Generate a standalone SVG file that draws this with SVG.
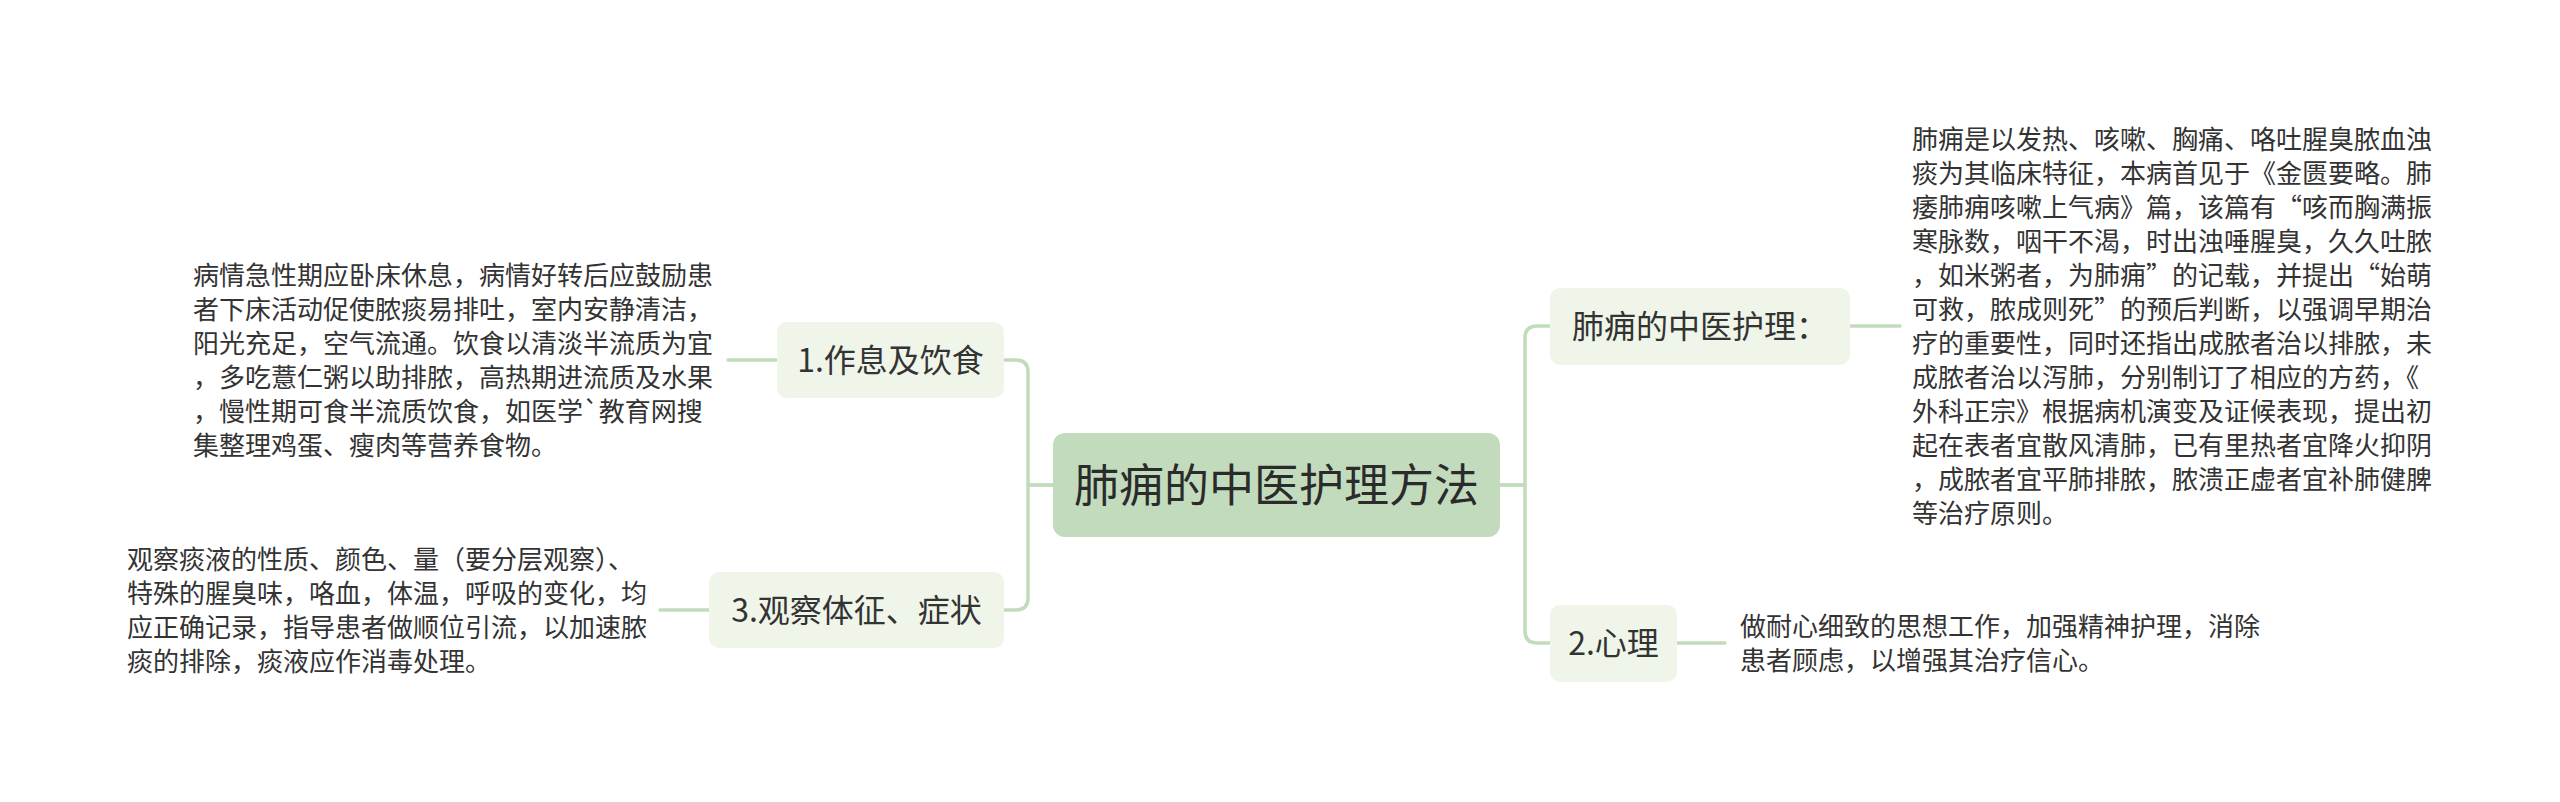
<svg xmlns="http://www.w3.org/2000/svg" width="2560" height="802" viewBox="0 0 2560 802">
<style>
.t{font-family:"Noto Sans CJK SC","Noto Sans",sans-serif;fill:#333333;}
.leaf{font-size:26px;}
.n1{font-size:32px;text-anchor:middle;}
.root{font-size:45px;text-anchor:middle;fill:#2b2b2b;}
.r1{fill:#eff5e8;}
.rr{fill:#c2dbbd;}
.c{fill:none;stroke:#c3dbbd;stroke-width:3.5;stroke-linecap:round;stroke-linejoin:round;}
</style>
<rect width="2560" height="802" fill="#ffffff"/>
<g id="connectors">
<path class="c" d="M1500,485 H1525 V338 Q1525,326 1537,326 H1550"/>
<path class="c" d="M1500,485 H1525 V631 Q1525,643 1537,643 H1550"/>
<path class="c" d="M1053,485 H1028 V372 Q1028,360 1016,360 H1004"/>
<path class="c" d="M1053,485 H1028 V598 Q1028,610 1016,610 H1004"/>
<path class="c" d="M777,360 H728"/>
<path class="c" d="M709,610 H660"/>
<path class="c" d="M1850,326 H1900"/>
<path class="c" d="M1677,643 H1725"/>
</g>
<g id="root">
<rect class="rr" x="1053" y="433" width="447" height="104" rx="12"/>
<text class="t root" x="1276.5" y="502">肺痈的中医护理方法</text>
</g>
<g id="n-zhongyi">
<rect class="r1" x="1550" y="288" width="300" height="77" rx="10"/>
<text class="t n1" x="1700" y="338">肺痈的中医护理：</text>
</g>
<g id="n-xinli">
<rect class="r1" x="1550" y="605" width="127" height="77" rx="10"/>
<text class="t n1" x="1613.5" y="655">2.心理</text>
</g>
<g id="n-zuoxi">
<rect class="r1" x="777" y="322" width="227" height="76" rx="10"/>
<text class="t n1" x="890.5" y="372">1.作息及饮食</text>
</g>
<g id="n-guancha">
<rect class="r1" x="709" y="572" width="295" height="76" rx="10"/>
<text class="t n1" x="856.5" y="622">3.观察体征、症状</text>
</g>
<g id="leaf-zhongyi">
<text class="t leaf" x="1912">
<tspan x="1912" y="149">肺痈是以发热、咳嗽、胸痛、咯吐腥臭脓血浊</tspan>
<tspan x="1912" y="183">痰为其临床特征，本病首见于《金匮要略。肺</tspan>
<tspan x="1912" y="217">痿肺痈咳嗽上气病》篇，该篇有“咳而胸满振</tspan>
<tspan x="1912" y="251">寒脉数，咽干不渴，时出浊唾腥臭，久久吐脓</tspan>
<tspan x="1912" y="285">，如米粥者，为肺痈”的记载，并提出“始萌</tspan>
<tspan x="1912" y="319">可救，脓成则死”的预后判断，以强调早期治</tspan>
<tspan x="1912" y="353">疗的重要性，同时还指出成脓者治以排脓，未</tspan>
<tspan x="1912" y="387">成脓者治以泻肺，分别制订了相应的方药，《</tspan>
<tspan x="1912" y="421">外科正宗》根据病机演变及证候表现，提出初</tspan>
<tspan x="1912" y="455">起在表者宜散风清肺，已有里热者宜降火抑阴</tspan>
<tspan x="1912" y="489">，成脓者宜平肺排脓，脓溃正虚者宜补肺健脾</tspan>
<tspan x="1912" y="523">等治疗原则。</tspan>
</text>
</g>
<g id="leaf-xinli">
<text class="t leaf">
<tspan x="1740" y="636">做耐心细致的思想工作，加强精神护理，消除</tspan>
<tspan x="1740" y="670">患者顾虑，以增强其治疗信心。</tspan>
</text>
</g>
<g id="leaf-zuoxi">
<text class="t leaf">
<tspan x="193" y="285">病情急性期应卧床休息，病情好转后应鼓励患</tspan>
<tspan x="193" y="319">者下床活动促使脓痰易排吐，室内安静清洁，</tspan>
<tspan x="193" y="353">阳光充足，空气流通。饮食以清淡半流质为宜</tspan>
<tspan x="193" y="387">，多吃薏仁粥以助排脓，高热期进流质及水果</tspan>
<tspan x="193" y="421">，慢性期可食半流质饮食，如医学`教育网搜</tspan>
<tspan x="193" y="455">集整理鸡蛋、瘦肉等营养食物。</tspan>
</text>
</g>
<g id="leaf-guancha">
<text class="t leaf">
<tspan x="127" y="569">观察痰液的性质、颜色、量（要分层观察）、</tspan>
<tspan x="127" y="603">特殊的腥臭味，咯血，体温，呼吸的变化，均</tspan>
<tspan x="127" y="637">应正确记录，指导患者做顺位引流，以加速脓</tspan>
<tspan x="127" y="671">痰的排除，痰液应作消毒处理。</tspan>
</text>
</g>
</svg>
